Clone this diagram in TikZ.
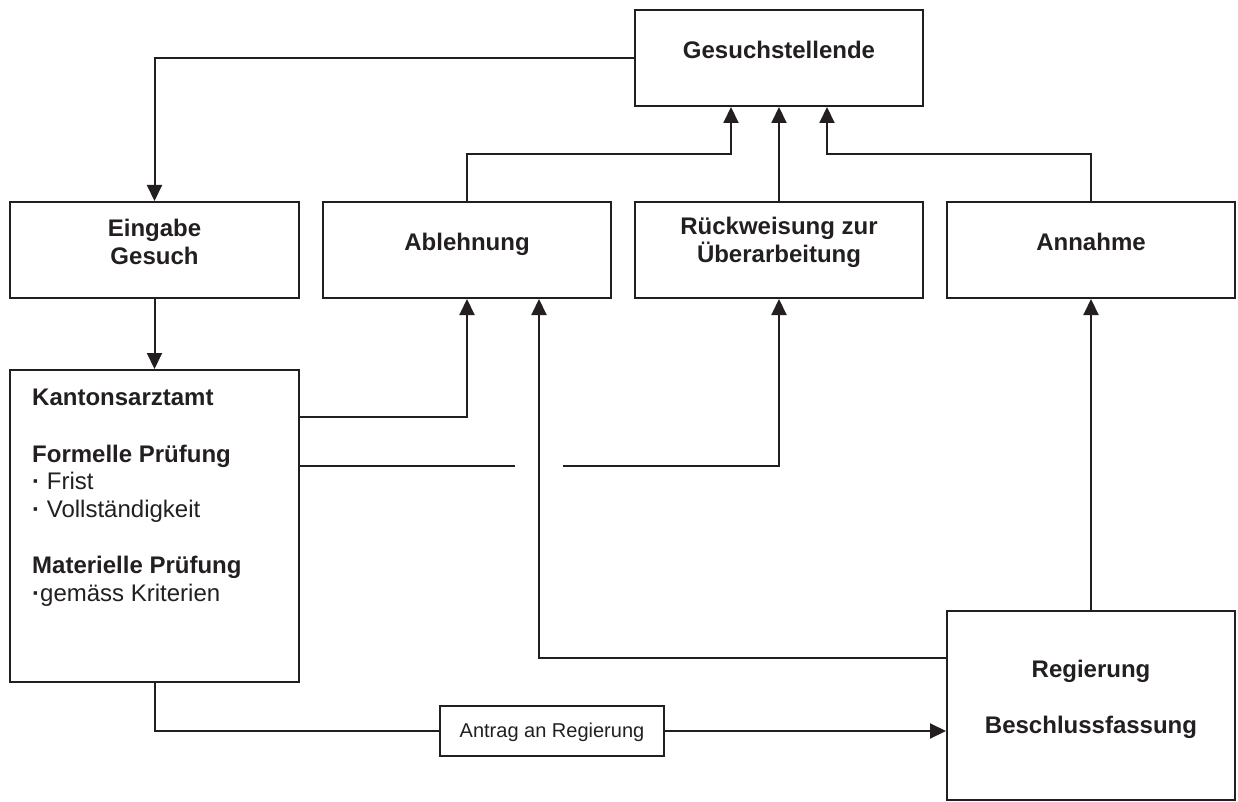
\documentclass[tikz,border=0pt]{standalone}
\usepackage{fontspec}
\setmainfont{Liberation Sans}
\usetikzlibrary{arrows.meta,calc}
\definecolor{ink}{RGB}{35,31,32}
\begin{document}
\begin{tikzpicture}[x=1pt,y=-1pt,
  box/.style={draw=ink, line width=2pt, inner sep=0pt, minimum width=288pt, minimum height=96pt},
  conn/.style={draw=ink, line width=2pt},
  arr/.style={conn, -{Triangle[length=16pt,width=15pt]}},
  lbl/.style={text=ink, font=\fontsize{24}{28}\selectfont\bfseries, align=center, inner sep=0pt},
  small/.style={text=ink, font=\fontsize{20}{24}\selectfont, inner sep=0pt},
  ]
\useasboundingbox (0,0) rectangle (1238,802);
% boxes
\node[box] (G) at (779,58) {};
\node[box, minimum width=289pt] (E) at (154.5,250) {};
\node[box] (A) at (467,250) {};
\node[box] (R) at (779,250) {};
\node[box] (N) at (1091,250) {};
\node[box, minimum width=289pt, minimum height=312pt] (K) at (154.5,526) {};
\node[box, minimum height=189pt] (Reg) at (1091,705.5) {};
\node[box, minimum width=224pt, minimum height=50pt] (T) at (552,731) {};
% texts
\node[lbl, anchor=base] (tG) at (779,59) {Gesuchstellende};
\node[lbl] (tE) at (154.5,242) {Eingabe\\Gesuch};
\node[lbl, anchor=base] (tA) at (467,251) {Ablehnung};
\node[lbl] (tR) at (779,242) {Rückweisung zur\\Überarbeitung};
\node[lbl, anchor=base] (tN) at (1091,251) {Annahme};
\node[lbl, anchor=base] (tReg1) at (1091,677) {Regierung};
\node[lbl, anchor=base] (tReg2) at (1091,733) {Beschlussfassung};
\node[small, anchor=base] (tT) at (552,737) {Antrag an Regierung};
\node[text=ink, font=\fontsize{24}{27.5}\selectfont, align=left, inner sep=0pt, anchor=north west] (tK) at (32,389)
  {\textbf{Kantonsarztamt}\\[29pt]
   \textbf{Formelle Prüfung}\\
   \textbf{·}~Frist\\
   \textbf{·}~Vollständigkeit\\[29pt]
   \textbf{Materielle Prüfung}\\
   \textbf{·}gemäss Kriterien};
% connectors
\coordinate (gA) at ($(G.south)+(-48,0)$);
\coordinate (gN) at ($(G.south)+(48,0)$);
\coordinate (aR) at ($(A.south)+(72,0)$);
\coordinate (k1) at (K.east |- 0,417);
\coordinate (k2) at (K.east |- 0,466);
\coordinate (gap1) at (515,466);
\coordinate (gap2) at (563,466);
\coordinate (r1) at (Reg.west |- 0,658);
\draw[arr] (G.west) -| (E.north);
\draw[arr] (E.south) -- (K.north);
\draw[arr] (A.north) -- (A.north |- 0,154) -| (gA);
\draw[arr] (R.north) -- (G.south);
\draw[arr] (N.north) -- (N.north |- 0,154) -| (gN);
\draw[arr] (k1) -| (A.south);
\draw[conn] (k2) -- (gap1);
\draw[arr] (gap2) -| (R.south);
\draw[arr] (r1) -| (aR);
\draw[arr] (Reg.north) -- (N.south);
\draw[conn] (K.south) |- (T.west);
\draw[arr] (T.east) -- (T.east -| Reg.west);
\end{tikzpicture}
\end{document}
